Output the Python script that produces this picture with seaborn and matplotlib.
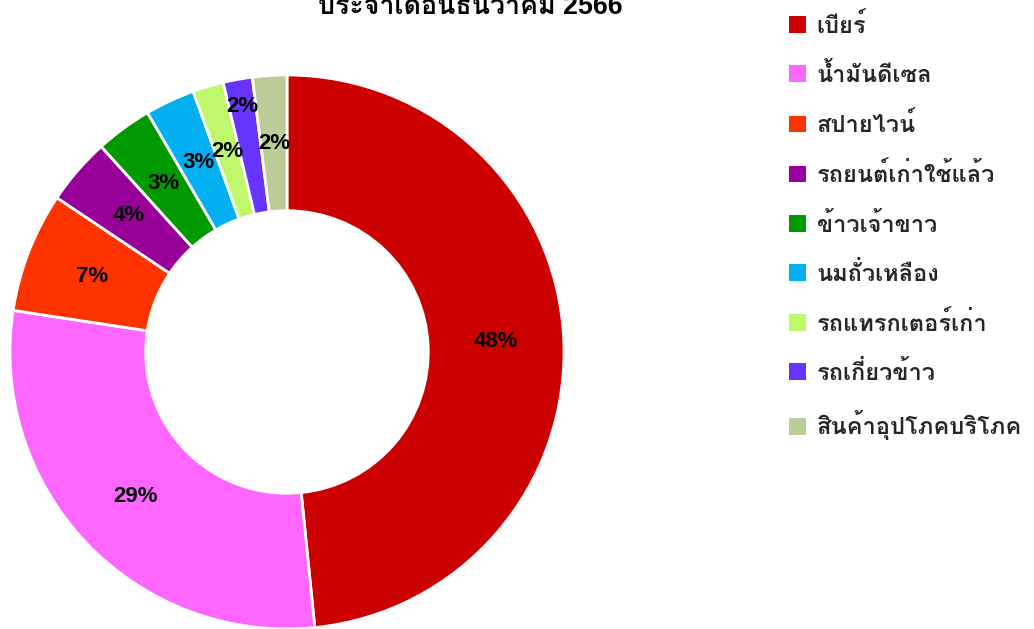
import matplotlib
matplotlib.use("Agg")
import matplotlib.pyplot as plt
import seaborn as sns
import numpy as np

categories = ["เบียร์", "น้ำมันดีเซล", "สปายไวน์", "รถยนต์เก่าใช้แล้ว", "ข้าวเจ้าขาว",
              "นมถั่วเหลือง", "รถแทรกเตอร์เก่า", "รถเกี่ยวข้าว", "สินค้าอุปโภคบริโภค"]
values = [48.4, 29.0, 7.0, 3.9, 3.3, 2.9, 1.8, 1.7, 2.0]
colors = ["#CC0000", "#FF66FF", "#FF3300", "#990099", "#009900",
          "#00B0F0", "#BFF86A", "#6633FF", "#BBCC99"]
label_radius = [0.755, 0.755, 0.755, 0.755, 0.755, 0.755, 0.755, 0.90, 0.755]
title = "ประจำเดือนธันวาคม 2566"

sns.set_theme(style="white")
plt.rcParams["font.family"] = ["Liberation Sans", "Loma", "DejaVu Sans"]

W, H = 1034, 629
fig = plt.figure(figsize=(W / 100, H / 100), dpi=100)
ax = fig.add_axes([10 / W, 0, 554 / W, 554 / H])
wedges, _ = ax.pie(values, colors=colors, startangle=90, counterclock=False,
                   radius=1, wedgeprops=dict(width=0.49, edgecolor="white", linewidth=2))
ax.set_xlim(-1, 1); ax.set_ylim(-1, 1); ax.set_aspect("equal"); ax.axis("off")

total = sum(values)
for w, v, r in zip(wedges, values, label_radius):
    ang = np.deg2rad((w.theta1 + w.theta2) / 2)
    ax.text(r * np.cos(ang), r * np.sin(ang), f"{round(v / total * 100):.0f}%",
            ha="center", va="center", fontsize=16, fontweight="bold", color="black",
            family=["Liberation Sans"])

fig.text(470 / W, 1 - 14 / H, title, ha="center", va="baseline", fontsize=19.3,
         fontweight="bold", color="black", family=["Liberation Sans", "Loma"])

leg = fig.legend(wedges, categories, loc="upper left", bbox_to_anchor=(789 / W, 1 - 13 / H),
                 frameon=False, prop=dict(family=["Loma"], size=17, weight="bold"),
                 handlelength=0.72, handleheight=0.72, handletextpad=0.45,
                 labelspacing=1.07, borderaxespad=0, borderpad=0)
for h in leg.legend_handles:
    h.set_linewidth(0)

fig.savefig("out.png", dpi=100)
